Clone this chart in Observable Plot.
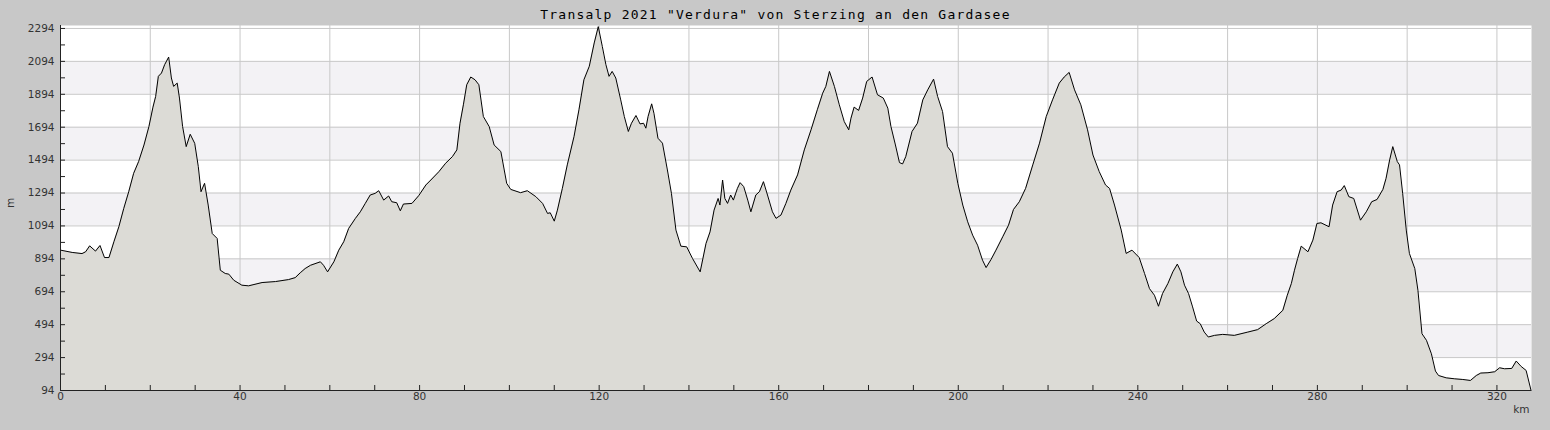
<!DOCTYPE html>
<html><head><meta charset="utf-8">
<script src="https://cdn.jsdelivr.net/npm/d3@7"></script>
<script src="https://cdn.jsdelivr.net/npm/@observablehq/plot@0.6"></script>
<style>html,body{margin:0;padding:0;background:#c8c8c8;} #chart svg{display:block;}</style>
</head><body><div id="chart"></div>
<script>
const title = 'Transalp 2021 "Verdura" von Sterzing an den Gardasee';
const xLabel = "km";
const yLabel = "m";

const km = [
0, 2.6, 4.8, 5.6, 6.5, 7.8, 8.8, 9.8, 10.8, 11.9, 13.0, 14.1, 15.2, 16.3, 17.4, 18.6, 19.7, 20.6, 21.2, 21.8, 22.5, 23.2, 24.1, 24.7, 25.2, 26.0, 26.5, 27.2, 28.0, 28.9, 29.9, 30.7, 31.3, 32.1, 32.9, 33.8, 34.9, 35.6, 36.7, 37.5, 38.6, 40.4, 41.9, 44.9, 47.9, 50.8, 52.3, 53.4, 54.5, 55.7, 57.9, 58.6, 59.5, 60.9, 62.0, 63.1, 64.2, 65.7, 66.8, 67.9, 69.0, 70.1, 70.9, 72.0, 73.1, 73.8, 74.9, 75.7, 76.4, 78.3, 79.8,
81.4, 82.5, 84.3, 85.8, 87.3, 88.3, 89.0, 89.75, 90.5, 91.4, 92.35, 93.2, 94.2, 95.5, 96.6, 98.1, 99.4, 100.3, 102.5, 104.0, 105.9, 107.4, 108.5, 109.1, 110.0, 110.7, 111.8, 112.9, 114.4, 115.5, 116.6, 117.8, 118.9, 119.8, 120.7, 121.5, 122.2, 122.9, 123.7, 124.8, 125.6, 126.5, 127.2, 128.2, 129.1, 129.9, 130.4, 130.9, 131.7, 132.2, 133.1, 134.1, 135.2, 136.1, 137.1, 138.2, 139.5, 140.8, 142.5, 143.8, 144.7, 145.6, 146.5, 146.9, 147.5, 148.0, 148.6, 149.3, 149.9, 150.8, 151.4, 152.2, 153.1, 153.8, 154.9, 155.7, 156.6, 157.5, 158.6, 159.4, 160.5, 161.6,
162.7, 164.2, 165.7, 167.2, 168.6, 169.8, 170.5, 171.3, 172.4, 173.5, 174.6, 175.6, 176.1, 176.8, 177.8, 178.7, 179.6, 180.8, 182.0, 183.3, 184.3, 185.0, 186.0, 186.9, 187.6, 188.3, 189.7, 190.9, 192.1, 193.2, 194.5, 195.4, 196.5, 197.6, 198.7, 199.9, 201.0, 202.1, 203.2, 204.3, 205.4, 206.2, 207.3, 208.4, 209.9, 211.2, 212.3, 213.6, 215.0, 216.6, 218.1, 219.6, 221.0, 222.5, 223.6, 224.7, 225.9, 227.3, 228.8, 230.0, 231.4, 232.8, 233.7, 234.8, 236.3, 237.4, 238.7, 240.3, 241.5, 242.6,
243.7, 244.6, 245.5, 246.7, 247.8, 248.8, 249.6, 250.4, 251.3, 252.2, 253.1, 253.9, 254.8, 255.7, 257.1, 258.9, 261.5, 264.5, 266.7, 268.6, 270.4, 272.3, 273.3, 274.2, 274.9, 275.6, 276.4, 277.9, 279.0, 279.9, 280.8, 282.6, 283.4, 284.4, 285.3, 286.0, 287.0, 288.1, 289.6, 290.9, 292.1, 293.3, 294.6, 295.3, 296.1, 296.8, 297.8, 298.3, 299.0, 299.8, 300.5, 301.7, 302.4, 303.3, 304.3, 305.4, 306.3, 307.0, 308.7, 310.6, 312.4, 314.1, 315.4, 316.4, 318.0, 319.5, 320.6, 321.7, 323.3, 324.3, 325.4, 326.5, 327.6
];
const elevation = [
947, 933, 926, 937, 973, 941, 975, 902, 902, 998, 1089, 1201, 1302, 1414, 1485, 1586, 1698, 1816, 1881, 2003, 2023, 2074, 2120, 1993, 1942, 1962, 1871, 1698, 1576, 1651, 1596, 1454, 1302, 1353, 1221, 1048, 1018, 825, 805, 801, 764, 734, 730, 750, 756, 768, 780, 809, 835, 855, 876, 855, 815, 876, 947, 998, 1079, 1140, 1180, 1231, 1282, 1292, 1308, 1251, 1276, 1241, 1235, 1186, 1227, 1231, 1278,
1343, 1373, 1424, 1475, 1515, 1556, 1718, 1830, 1952, 1999, 1982, 1952, 1759, 1698, 1586, 1546, 1353, 1316, 1296, 1308, 1272, 1231, 1170, 1174, 1123, 1190, 1322, 1465, 1637, 1800, 1982, 2064, 2206, 2305, 2185, 2074, 2003, 2033, 1993, 1860, 1759, 1668, 1718, 1765, 1714, 1718, 1688, 1759, 1836, 1779, 1627, 1597, 1434, 1292, 1069, 971, 967, 896, 815, 987, 1058, 1190, 1261, 1221, 1373, 1261, 1231, 1282, 1251, 1322, 1357, 1333, 1251, 1180, 1282, 1302, 1363, 1282, 1180, 1140, 1160, 1231,
1312, 1404, 1556, 1678, 1800, 1901, 1942, 2033, 1942, 1830, 1728, 1678, 1749, 1816, 1796, 1871, 1972, 1999, 1891, 1871, 1810, 1698, 1586, 1479, 1471, 1515, 1668, 1718, 1860, 1921, 1986, 1881, 1789, 1576, 1536, 1353, 1221, 1119, 1038, 977, 886, 841, 890, 947, 1028, 1099, 1194, 1241, 1322, 1465, 1597, 1759, 1860, 1962, 1999, 2027, 1921, 1830, 1678, 1525, 1424, 1343, 1322, 1221, 1069, 927, 947, 902, 805, 713,
673, 606, 683, 744, 815, 862, 815, 734, 683, 602, 516, 500, 449, 419, 429, 435, 429, 449, 464, 500, 531, 581, 673, 744, 825, 896, 971, 937, 1008, 1109, 1113, 1089, 1221, 1302, 1312, 1339, 1272, 1261, 1129, 1180, 1241, 1255, 1316, 1383, 1495, 1576, 1485, 1465, 1292, 1069, 927, 835, 703, 439, 399, 317, 212, 185, 171, 165, 161, 155, 185, 200, 202, 208, 232, 226, 228, 273, 240, 216, 94
];

const xDomain = [0, 327.7];
const yDomain = [94, 2312];
const yLabelTicks = [94, 294, 494, 694, 894, 1094, 1294, 1494, 1694, 1894, 2094, 2294];
const yMinorTicks = [94, 194, 294, 394, 494, 594, 694, 794, 894, 994, 1094, 1194, 1294, 1394, 1494, 1594, 1694, 1794, 1894, 1994, 2094, 2194, 2294];
const xLabelTicks = [0, 40, 80, 120, 160, 200, 240, 280, 320];
const xGridTicks = [0, 20, 40, 60, 80, 100, 120, 140, 160, 180, 200, 220, 240, 260, 280, 300, 320];
const xMinorTicks = [0, 10, 20, 30, 40, 50, 60, 70, 80, 90, 100, 110, 120, 130, 140, 150, 160, 170, 180, 190, 200, 210, 220, 230, 240, 250, 260, 270, 280, 290, 300, 310, 320];
const bandLow = [294, 694, 1094, 1494, 1894];
const bandHigh = [494, 894, 1294, 1694, 2094];

const data = km.map((k, i) => ({km: k, m: elevation[i]}));
const bands = bandLow.map((lo, i) => ({lo, hi: bandHigh[i]}));

const chart = Plot.plot({
  width: 1550, height: 430,
  marginLeft: 60, marginRight: 19, marginTop: 25, marginBottom: 40,
  style: {background: "#c8c8c8", fontFamily: "DejaVu Sans, sans-serif", fontSize: "10.5px", color: "#333"},
  x: {domain: xDomain, label: null},
  y: {domain: yDomain, label: null},
  marks: [
    Plot.frame({fill: "white", stroke: null}),
    Plot.rect(bands, {x1: () => xDomain[0], x2: () => xDomain[1], y1: "lo", y2: "hi", fill: "#f3f2f5"}),
    Plot.gridY(yLabelTicks, {stroke: "#c8c8c8", strokeOpacity: 1}),
    Plot.gridX(xGridTicks, {stroke: "#c8c8c8", strokeOpacity: 1}),
    Plot.areaY(data, {x: "km", y1: () => yDomain[0], y2: "m", fill: "#dcdbd6"}),
    Plot.line(data, {x: "km", y: "m", stroke: "black", strokeWidth: 1}),
    Plot.axisY(yLabelTicks, {tickSize: 0, tickPadding: 6, fill: "#333", label: null, tickFormat: d => String(d)}),
    Plot.axisY(yMinorTicks, {tickSize: -5, text: null, stroke: "#222", label: null}),
    Plot.axisX(xLabelTicks, {tickSize: 0, tickPadding: 2, fill: "#333", label: null, tickFormat: d => String(d)}),
    Plot.axisX(xMinorTicks, {tickSize: -5, text: null, stroke: "#222", label: null}),
    Plot.ruleY([yDomain[0]], {stroke: "#222", strokeWidth: 1}),
    Plot.ruleX([xDomain[0]], {stroke: "#222", strokeWidth: 1}),
    Plot.text([title], {text: d => d, frameAnchor: "top", dy: -11, dx: -20.5, lineAnchor: "middle",
      fontFamily: "DejaVu Sans Mono, monospace", fontSize: 13, fill: "black"}),
    Plot.text([xLabel], {text: d => d, frameAnchor: "bottom-right", textAnchor: "end", dy: 19, dx: -2, lineAnchor: "middle", fill: "#333"}),
    Plot.text([yLabel], {text: d => d, frameAnchor: "left", dx: -50, rotate: -90, lineAnchor: "middle", fill: "#333"})
  ]
});
d3.select(chart).selectAll("text").filter(function() { return this.textContent === title; })
  .style("letter-spacing", "1.22px").style("font-weight", "500");
document.getElementById("chart").appendChild(chart);
</script>
</body></html>
